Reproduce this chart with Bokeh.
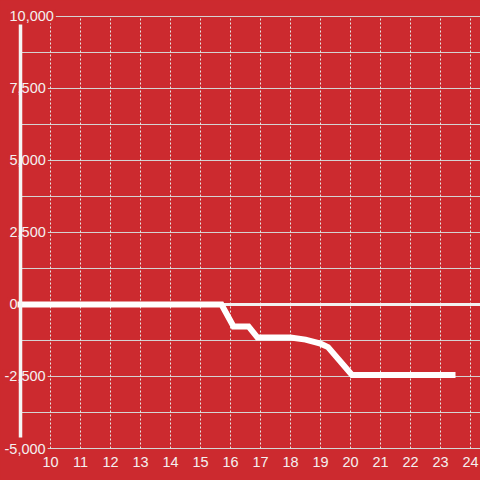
from bokeh.plotting import figure
from bokeh.embed import file_html
from bokeh.resources import INLINE
from bokeh.core.properties import value
from bokeh.models import GlobalInlineStyleSheet

# ---- data ----
hours = [8.9, 15.7, 16.1, 16.6, 16.9, 18.0, 18.5, 19.0, 19.25, 20.05, 23.5]
balance = [0, 0, -760, -760, -1150, -1150, -1220, -1360, -1480, -2450, -2450]

x_ticks = [10, 11, 12, 13, 14, 15, 16, 17, 18, 19, 20, 21, 22, 23, 24]
x_tick_labels = [str(t) for t in x_ticks]
y_ticks = [-5000, -2500, 0, 2500, 5000, 7500, 10000]
y_tick_labels = ["-5,000", "-2,500", "0", "2,500", "5,000", "7,500", "10,000"]
y_grid = [-5000, -3750, -2500, -1250, 0, 1250, 2500, 3750, 5000, 6250, 7500, 8750, 10000]

BG = "#CC2A2F"
FONT = "Liberation Sans"
X0, X1 = 8.333, 24.333
Y0, Y1 = -6111, 10555
AXIS_X = 9

p = figure(width=480, height=480, x_range=(X0, X1), y_range=(Y0, Y1),
           output_backend="svg", toolbar_location=None,
           x_axis_type=None, y_axis_type=None, min_border=0)
p.background_fill_color = BG
p.border_fill_color = BG
p.outline_line_color = None
p.grid.visible = False
p.stylesheets = [GlobalInlineStyleSheet(
    css="html,body{margin:0;padding:0;background:#CC2A2F;overflow:hidden}")]

# horizontal grid lines
p.segment(x0=[AXIS_X] * len(y_grid), x1=[X1] * len(y_grid), y0=y_grid, y1=y_grid,
          line_color="#D5D5D5", line_width=1)
# vertical dotted grid lines
p.segment(x0=x_ticks, x1=x_ticks, y0=[min(y_ticks)] * len(x_ticks),
          y1=[max(y_ticks)] * len(x_ticks),
          line_color="#E6E6E6", line_width=1, line_dash="2 2")
# zero line
p.segment(x0=[AXIS_X], x1=[X1], y0=[0], y1=[0], line_color="#F2F2F2", line_width=3)

# y tick labels with background
p.text(x=[X0] * len(y_ticks), y=y_ticks, text=y_tick_labels,
       x_offset=[2 if v < 0 else 7 for v in y_ticks],
       text_font=value(FONT), text_font_size="14.5px", text_color="#F4F0F0",
       text_align="left", text_baseline="middle",
       background_fill_color=BG, padding=2)

# x tick labels
p.text(x=x_ticks, y=[min(y_ticks)] * len(x_ticks), text=x_tick_labels,
       y_offset=13, text_font=value(FONT), text_font_size="14.5px",
       text_color="#F4F0F0", text_align="center", text_baseline="middle")

# data line
p.line(hours, balance, line_color="white", line_width=6, line_join="miter",
       line_cap="butt")

# axis bar
bar = p.segment(x0=[AXIS_X], x1=[AXIS_X], y0=[9720], y1=[-4620],
                line_color="#F5F5F5", line_width=3.5)
bar.level = "overlay"

open("out.html", "w").write(file_html(p, INLINE))
